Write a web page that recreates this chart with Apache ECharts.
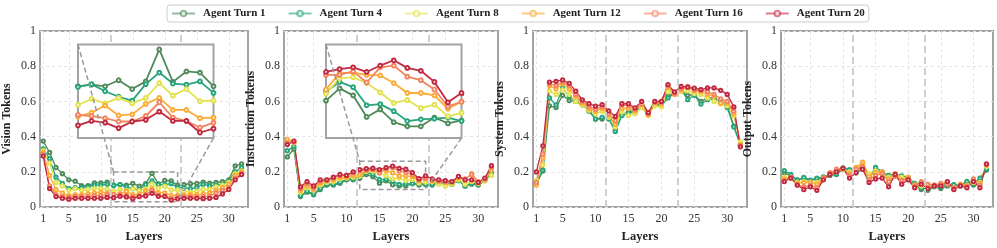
<!DOCTYPE html>
<html>
<head>
<meta charset="utf-8">
<script src="https://cdn.jsdelivr.net/npm/echarts@6/dist/echarts.min.js"></script>
<style>html,body{margin:0;padding:0;background:#fff}#c{width:997px;height:248px}</style>
</head>
<body>
<div id="c"></div>
<script>
const layers = [1,2,3,4,5,6,7,8,9,10,11,12,13,14,15,16,17,18,19,20,21,22,23,24,25,26,27,28,29,30,31,32];
const xTicks = [1,5,10,15,20,25,30];
const turnNames = ['Agent Turn 1','Agent Turn 4','Agent Turn 8','Agent Turn 12','Agent Turn 16','Agent Turn 20'];
const panelNames = ['Vision Tokens','Instruction Tokens','System Tokens','Output Tokens'];

const vision_t1 = [0.375,0.31,0.225,0.19,0.155,0.147,0.122,0.122,0.138,0.137,0.142,0.124,0.127,0.124,0.135,0.119,0.133,0.191,0.132,0.151,0.149,0.124,0.127,0.133,0.134,0.142,0.136,0.14,0.144,0.155,0.234,0.246];
const vision_t4 = [0.33,0.275,0.17,0.135,0.105,0.11,0.11,0.115,0.125,0.125,0.13,0.123,0.128,0.115,0.105,0.098,0.128,0.149,0.129,0.127,0.133,0.112,0.11,0.105,0.112,0.13,0.12,0.125,0.13,0.148,0.2,0.225];
const vision_t8 = [0.32,0.25,0.14,0.12,0.095,0.105,0.095,0.1,0.105,0.105,0.1,0.09,0.101,0.093,0.103,0.093,0.103,0.13,0.107,0.119,0.097,0.098,0.09,0.085,0.09,0.1,0.1,0.115,0.125,0.14,0.19,0.205];
const vision_t12 = [0.31,0.18,0.1,0.08,0.065,0.07,0.07,0.075,0.08,0.085,0.08,0.069,0.076,0.089,0.071,0.073,0.092,0.103,0.081,0.081,0.066,0.067,0.068,0.07,0.07,0.075,0.08,0.095,0.11,0.13,0.18,0.2];
const vision_t16 = [0.3,0.12,0.07,0.06,0.055,0.06,0.06,0.06,0.065,0.065,0.07,0.072,0.07,0.066,0.06,0.06,0.07,0.095,0.067,0.061,0.049,0.058,0.058,0.06,0.058,0.06,0.062,0.08,0.095,0.11,0.165,0.19];
const vision_t20 = [0.29,0.105,0.06,0.05,0.045,0.05,0.05,0.05,0.05,0.05,0.055,0.053,0.061,0.058,0.048,0.06,0.063,0.078,0.061,0.061,0.04,0.047,0.05,0.05,0.05,0.048,0.05,0.055,0.075,0.1,0.155,0.185];

const instr_t1 = [0.285,0.33,0.06,0.085,0.07,0.1,0.125,0.125,0.135,0.155,0.155,0.164,0.185,0.173,0.136,0.149,0.127,0.12,0.12,0.135,0.125,0.13,0.125,0.14,0.14,0.13,0.155,0.12,0.13,0.125,0.15,0.19];
const instr_t4 = [0.32,0.345,0.065,0.09,0.075,0.105,0.13,0.13,0.14,0.16,0.16,0.179,0.196,0.187,0.156,0.158,0.146,0.129,0.132,0.133,0.135,0.129,0.13,0.14,0.135,0.13,0.15,0.12,0.135,0.13,0.155,0.195];
const instr_t8 = [0.375,0.365,0.085,0.11,0.095,0.125,0.14,0.145,0.16,0.165,0.17,0.176,0.202,0.204,0.194,0.178,0.16,0.165,0.151,0.157,0.137,0.143,0.145,0.13,0.12,0.13,0.155,0.13,0.145,0.135,0.15,0.18];
const instr_t12 = [0.385,0.37,0.095,0.12,0.1,0.135,0.155,0.155,0.17,0.17,0.18,0.183,0.211,0.212,0.208,0.207,0.194,0.177,0.177,0.173,0.15,0.162,0.15,0.145,0.14,0.14,0.165,0.155,0.19,0.14,0.155,0.21];
const instr_t16 = [0.365,0.37,0.105,0.135,0.11,0.145,0.15,0.165,0.18,0.18,0.195,0.208,0.208,0.214,0.195,0.221,0.224,0.205,0.199,0.183,0.154,0.162,0.155,0.15,0.145,0.145,0.17,0.16,0.185,0.145,0.16,0.225];
const instr_t20 = [0.355,0.375,0.115,0.145,0.12,0.155,0.155,0.17,0.185,0.18,0.2,0.213,0.218,0.221,0.213,0.224,0.233,0.22,0.215,0.196,0.161,0.177,0.16,0.155,0.15,0.145,0.175,0.155,0.155,0.14,0.165,0.235];

const system_t1 = [0.13,0.205,0.575,0.565,0.635,0.605,0.6,0.585,0.545,0.5,0.5,0.51,0.44,0.525,0.54,0.55,0.575,0.53,0.585,0.58,0.63,0.65,0.66,0.635,0.64,0.6,0.62,0.62,0.6,0.58,0.46,0.35];
const system_t4 = [0.14,0.21,0.62,0.58,0.675,0.63,0.6,0.58,0.55,0.5,0.51,0.5,0.43,0.52,0.535,0.54,0.57,0.53,0.58,0.575,0.62,0.645,0.665,0.61,0.635,0.585,0.61,0.615,0.6,0.565,0.455,0.355];
const system_t8 = [0.15,0.24,0.66,0.64,0.665,0.64,0.6,0.58,0.55,0.53,0.545,0.51,0.455,0.54,0.52,0.53,0.565,0.52,0.575,0.57,0.655,0.645,0.655,0.66,0.645,0.64,0.62,0.6,0.585,0.575,0.52,0.37];
const system_t12 = [0.125,0.28,0.69,0.67,0.7,0.67,0.63,0.59,0.56,0.545,0.56,0.52,0.47,0.56,0.56,0.545,0.58,0.525,0.59,0.585,0.68,0.64,0.665,0.68,0.66,0.655,0.64,0.63,0.59,0.59,0.53,0.355];
const system_t16 = [0.14,0.3,0.7,0.69,0.71,0.69,0.64,0.6,0.57,0.555,0.57,0.53,0.49,0.58,0.575,0.555,0.585,0.53,0.595,0.595,0.69,0.645,0.675,0.685,0.665,0.665,0.655,0.64,0.615,0.6,0.545,0.35];
const system_t20 = [0.2,0.348,0.71,0.714,0.722,0.703,0.658,0.609,0.587,0.573,0.582,0.546,0.515,0.587,0.587,0.564,0.6,0.537,0.6,0.6,0.695,0.654,0.685,0.681,0.676,0.667,0.677,0.677,0.663,0.64,0.569,0.342];

const output_t1 = [0.195,0.175,0.155,0.165,0.15,0.16,0.165,0.18,0.185,0.215,0.205,0.195,0.24,0.175,0.21,0.195,0.18,0.18,0.175,0.165,0.13,0.1,0.095,0.115,0.105,0.12,0.125,0.12,0.14,0.125,0.15,0.21];
const output_t4 = [0.207,0.186,0.153,0.168,0.153,0.164,0.171,0.186,0.186,0.222,0.213,0.204,0.249,0.171,0.225,0.2,0.177,0.186,0.177,0.168,0.135,0.11,0.099,0.123,0.114,0.132,0.128,0.123,0.146,0.132,0.164,0.216];
const output_t8 = [0.17,0.165,0.14,0.145,0.14,0.14,0.165,0.19,0.2,0.215,0.2,0.215,0.245,0.19,0.205,0.195,0.17,0.185,0.17,0.165,0.125,0.12,0.115,0.12,0.125,0.135,0.11,0.125,0.125,0.14,0.14,0.23];
const output_t12 = [0.16,0.165,0.135,0.14,0.14,0.13,0.16,0.19,0.205,0.215,0.19,0.225,0.255,0.175,0.195,0.2,0.16,0.19,0.155,0.17,0.125,0.135,0.125,0.125,0.13,0.14,0.105,0.13,0.12,0.155,0.135,0.24];
const output_t16 = [0.15,0.17,0.125,0.115,0.125,0.11,0.165,0.195,0.215,0.22,0.18,0.215,0.23,0.155,0.18,0.19,0.145,0.175,0.15,0.16,0.12,0.145,0.13,0.125,0.135,0.13,0.11,0.125,0.12,0.16,0.125,0.24];
const output_t20 = [0.145,0.165,0.125,0.1,0.115,0.095,0.155,0.185,0.2,0.22,0.165,0.195,0.215,0.14,0.16,0.165,0.115,0.185,0.13,0.155,0.11,0.13,0.105,0.12,0.12,0.145,0.1,0.12,0.11,0.145,0.11,0.245];

const panelData = [
  [vision_t1, vision_t4, vision_t8, vision_t12, vision_t16, vision_t20],
  [instr_t1, instr_t4, instr_t8, instr_t12, instr_t16, instr_t20],
  [system_t1, system_t4, system_t8, system_t12, system_t16, system_t20],
  [output_t1, output_t4, output_t8, output_t12, output_t16, output_t20]
];
// zoom windows: [xmin, xmax, ymin, ymax] for panels with an inset
const zoomWindows = [[12, 22, 0.03, 0.2], [12, 22, 0.1, 0.26], null, null];
const dividers = [11.5, 22.5];

const colors = ['#4f8b58', '#27a57b', '#e2e24e', '#fcab36', '#f3845f', '#c2283f'];
const SERIF = '"Liberation Serif","Times New Roman",serif';

const gridLeft = [36, 284, 533, 781];
const gridWidth = [212, 214, 214, 212];
const gridTop = 31, gridHeight = 185;

const grids = [], xAxes = [], yAxes = [], series = [];
for (let p = 0; p < 4; p++) {
  grids.push({left: gridLeft[p], top: gridTop, width: gridWidth[p], height: gridHeight,
    show: true, borderColor: '#a3a3a3', borderWidth: 2, backgroundColor: '#fff', z: 0});
  xAxes.push({type: 'value', gridIndex: p, min: 0.5, max: 33,
    name: 'Layers', nameLocation: 'middle', nameGap: 20,
    nameTextStyle: {fontFamily: SERIF, fontWeight: 'bold', fontSize: 12.5, color: '#222'},
    axisLine: {show: false}, axisTick: {show: false, customValues: xTicks},
    axisLabel: {customValues: xTicks, fontFamily: SERIF, fontSize: 12, color: '#333', margin: 6},
    splitLine: {show: true, lineStyle: {color: '#e4e4e4', type: [3, 3], width: 1}}});
  yAxes.push({type: 'value', gridIndex: p, min: 0, max: 1, interval: 0.2,
    name: panelNames[p], nameLocation: 'middle', nameGap: 27,
    nameTextStyle: {fontFamily: SERIF, fontWeight: 'bold', fontSize: 12, color: '#222'},
    axisLine: {show: false}, axisTick: {show: false},
    axisLabel: {fontFamily: SERIF, fontSize: 12, color: '#333', margin: 4},
    splitLine: {show: true, lineStyle: {color: '#e4e4e4', type: [3, 3], width: 1}}});
}
// inset grids
const insetGridIndex = {};
let gi = 4;
for (let p = 0; p < 4; p++) {
  const w = zoomWindows[p];
  if (!w) continue;
  insetGridIndex[p] = gi;
  grids.push({left: gridLeft[p] + 42, top: 44.5, width: 135.5, height: 93.5,
    show: true, borderColor: '#a3a3a3', borderWidth: 2, backgroundColor: '#fff', z: 10});
  xAxes.push({type: 'value', gridIndex: gi, min: w[0], max: w[1], show: false, splitLine: {show: false}, z: 10});
  yAxes.push({type: 'value', gridIndex: gi, min: w[2], max: w[3], show: false, splitLine: {show: false}, z: 10});
  gi++;
}

for (let p = 0; p < 4; p++) {
  const w = zoomWindows[p];
  series.push({type: 'line', name: 'guides' + p, xAxisIndex: p, yAxisIndex: p, data: [], z: 1,
    markLine: {silent: true, symbol: 'none', label: {show: false}, animation: false,
      lineStyle: {color: '#cfcfcf', width: 2, type: [7, 4]},
      data: dividers.map(d => ({xAxis: d}))},
    markArea: w ? {silent: true, label: {show: false},
      itemStyle: {color: 'rgba(0,0,0,0)', borderColor: '#9a9a9a', borderWidth: 1.5, borderType: [5, 3]},
      data: [[{coord: [w[0], w[3]]}, {coord: [w[1], w[2]]}]]} : undefined});
  for (let s = 0; s < 6; s++) {
    series.push({type: 'line', name: turnNames[s], xAxisIndex: p, yAxisIndex: p, z: 2,
      data: layers.map((l, i) => [l, panelData[p][s][i]]),
      symbol: 'emptyCircle', symbolSize: 3.3, showSymbol: true,
      lineStyle: {color: colors[s], width: 1.3},
      itemStyle: {color: colors[s], borderWidth: 0.7}});
  }
  if (insetGridIndex[p] !== undefined) {
    const g = insetGridIndex[p];
    for (let s = 0; s < 6; s++) {
      series.push({type: 'line', name: turnNames[s], xAxisIndex: g, yAxisIndex: g, z: 12,
        data: layers.map((l, i) => [l, panelData[p][s][i]]),
        symbol: 'emptyCircle', symbolSize: 3.8, clip: true,
        lineStyle: {color: colors[s], width: 1.8},
        itemStyle: {color: colors[s], borderWidth: 0.8}});
    }
  }
}

const chart = echarts.init(document.getElementById('c'), null, {renderer: 'canvas'});
chart.setOption({
  animation: false,
  color: colors,
  legend: {data: turnNames, top: 5, left: 167, itemWidth: 23, itemHeight: 7, itemGap: 22,
    padding: [3, 4], borderColor: '#cccccc', borderWidth: 1, borderRadius: 3,
    textStyle: {fontFamily: SERIF, fontWeight: 'bold', fontSize: 11, color: '#222', padding: [0, 0, 0, 3]},
    lineStyle: {opacity: 0.6}, itemStyle: {opacity: 0.6}},
  grid: grids, xAxis: xAxes, yAxis: yAxes, series: series
});

// connector lines between zoom rectangles and insets
const graphics = [];
for (let p = 0; p < 4; p++) {
  const w = zoomWindows[p];
  if (!w) continue;
  const g = insetGridIndex[p];
  const rTL = chart.convertToPixel({gridIndex: p}, [w[0], w[3]]);
  const rBR = chart.convertToPixel({gridIndex: p}, [w[1], w[2]]);
  const iTL = chart.convertToPixel({gridIndex: g}, [w[0], w[3]]);
  const iBR = chart.convertToPixel({gridIndex: g}, [w[1], w[2]]);
  [[iTL, rTL], [iBR, rBR]].forEach(([a, b]) => graphics.push({type: 'line', z: 20, silent: true,
    shape: {x1: a[0], y1: a[1], x2: b[0], y2: b[1]},
    style: {stroke: '#9a9a9a', lineWidth: 1.5, lineDash: [5, 3]}}));
}
chart.setOption({graphic: graphics});
</script>
</body>
</html>
